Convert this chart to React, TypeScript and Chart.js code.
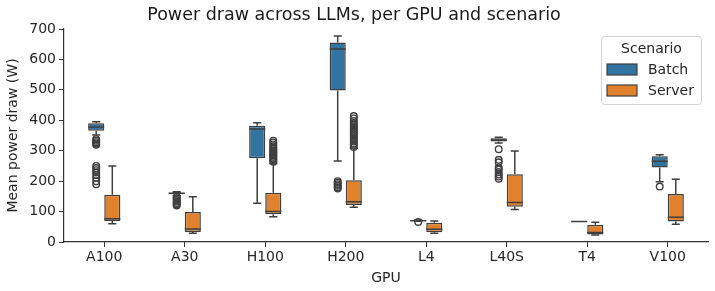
import React, { useEffect, useRef } from "react";
import { Chart, registerables } from "chart.js";

Chart.register(...registerables);

const categories = ["A100", "A30", "H100", "H200", "L4", "L40S", "T4", "V100"];
const scenarios = ["Batch", "Server"];

const batchWhiskerLow = [352, 152, 127, 266, 68, 325, 67, 198];
const batchQ1 = [366, 157, 275, 498, 69, 330, 67, 245];
const batchMedian = [378, 160, 371, 634, 70, 335, 67, 265];
const batchQ3 = [390, 162, 382, 656, 71, 341, 67, 282];
const batchWhiskerHigh = [395, 165, 392, 677, 72, 344, 67, 287];
const batchOutliers = [
  [338, 333, 328, 324, 320, 250, 243, 236, 228, 220, 210, 200, 190],
  [148, 143, 138, 133, 128, 124, 120],
  [],
  [200, 195, 190, 185, 180, 176],
  [66],
  [305, 270, 262, 245, 238, 230, 222, 215, 208],
  [],
  [182],
];

const serverWhiskerLow = [60, 29, 83, 114, 29, 107, 23, 58];
const serverQ1 = [69, 33, 91, 122, 32, 116, 25, 67];
const serverMedian = [76, 43, 100, 132, 42, 130, 31, 81];
const serverQ3 = [155, 99, 162, 203, 63, 223, 57, 158];
const serverWhiskerHigh = [250, 149, 258, 308, 69, 299, 65, 206];
const serverOutliers = [
  [],
  [],
  [264, 268, 272, 276, 280, 284, 288, 292, 296, 300, 305, 310, 315, 320, 327, 333],
  [312, 318, 324, 330, 336, 342, 348, 354, 360, 366, 372, 378, 384, 390, 398, 406, 414],
  [],
  [],
  [],
  [],
];

const yTicks = [0, 100, 200, 300, 400, 500, 600, 700];

const BLUE = "#3274a1";
const ORANGE = "#e1812c";
const EDGE = "#3f3f3f";
const FONT = "DejaVu Sans";

const stats = [
  { low: batchWhiskerLow, q1: batchQ1, med: batchMedian, q3: batchQ3, high: batchWhiskerHigh, out: batchOutliers },
  { low: serverWhiskerLow, q1: serverQ1, med: serverMedian, q3: serverQ3, high: serverWhiskerHigh, out: serverOutliers },
];

const boxPlugin = {
  id: "boxParts",
  afterDatasetsDraw(chart: any) {
    const ctx = chart.ctx;
    const y = chart.scales.y;
    ctx.save();
    stats.forEach((s, di) => {
      const meta = chart.getDatasetMeta(di);
      meta.data.forEach((bar: any, i: number) => {
        const x = bar.x;
        const w = bar.width;
        ctx.strokeStyle = EDGE;
        ctx.lineWidth = 1.5;
        ctx.beginPath();
        ctx.moveTo(x, y.getPixelForValue(s.q3[i]));
        ctx.lineTo(x, y.getPixelForValue(s.high[i]));
        ctx.moveTo(x - w / 4, y.getPixelForValue(s.high[i]));
        ctx.lineTo(x + w / 4, y.getPixelForValue(s.high[i]));
        ctx.moveTo(x, y.getPixelForValue(s.q1[i]));
        ctx.lineTo(x, y.getPixelForValue(s.low[i]));
        ctx.moveTo(x - w / 4, y.getPixelForValue(s.low[i]));
        ctx.lineTo(x + w / 4, y.getPixelForValue(s.low[i]));
        ctx.moveTo(x - w / 2, y.getPixelForValue(s.med[i]));
        ctx.lineTo(x + w / 2, y.getPixelForValue(s.med[i]));
        ctx.stroke();
        ctx.lineWidth = 1.4;
        s.out[i].forEach((v: number) => {
          ctx.beginPath();
          ctx.arc(x, y.getPixelForValue(v), 3.3, 0, Math.PI * 2);
          ctx.stroke();
        });
      });
    });
    ctx.restore();
  },
  afterDraw(chart: any) {
    const ctx = chart.ctx;
    const area = chart.chartArea;
    const lx = area.right - 107;
    const ly = area.top + 7;
    const lw = 100;
    const lh = 68;
    ctx.save();
    ctx.fillStyle = "rgba(255,255,255,0.8)";
    ctx.strokeStyle = "#d0d0d0";
    ctx.lineWidth = 1;
    ctx.beginPath();
    (ctx as any).roundRect(lx + 0.5, ly + 0.5, lw, lh, 3);
    ctx.fill();
    ctx.stroke();
    ctx.fillStyle = "#262626";
    ctx.font = `14px "${FONT}"`;
    ctx.textAlign = "center";
    ctx.textBaseline = "middle";
    ctx.fillText("Scenario", lx + 50.5, ly + 13);
    const colors = [BLUE, ORANGE];
    scenarios.forEach((name, k) => {
      const py = ly + 28 + k * 21;
      ctx.fillStyle = colors[k];
      ctx.fillRect(lx + 6, py, 30, 11);
      ctx.strokeStyle = EDGE;
      ctx.lineWidth = 1.2;
      ctx.strokeRect(lx + 6, py, 30, 11);
      ctx.fillStyle = "#262626";
      ctx.textAlign = "left";
      ctx.fillText(name, lx + 47, py + 6);
    });
    ctx.restore();
  },
};

export default function App() {
  const ref = useRef<HTMLCanvasElement | null>(null);
  useEffect(() => {
    document.body.style.margin = "0";
    if (!ref.current) return;
    const chart = new Chart(ref.current, {
      type: "bar",
      data: {
        labels: categories,
        datasets: [
          {
            label: scenarios[0],
            data: categories.map((_, i) => [batchQ1[i], batchQ3[i]]),
            backgroundColor: BLUE,
            borderColor: EDGE,
            borderWidth: 1.5,
            borderSkipped: false,
            categoryPercentage: 0.4,
            barPercentage: 1.0,
          },
          {
            label: scenarios[1],
            data: categories.map((_, i) => [serverQ1[i], serverQ3[i]]),
            backgroundColor: ORANGE,
            borderColor: EDGE,
            borderWidth: 1.5,
            borderSkipped: false,
            categoryPercentage: 0.4,
            barPercentage: 1.0,
          },
        ] as any,
      },
      options: {
        animation: false,
        responsive: false,
        maintainAspectRatio: false,
        layout: { padding: { top: 0, right: 7, left: 0, bottom: 0 } },
        plugins: {
          legend: { display: false },
          tooltip: { enabled: false },
          title: {
            display: true,
            text: "Power draw across LLMs, per GPU and scenario",
            color: "#1a1a1a",
            font: { family: FONT, size: 17.5, weight: "normal" },
            padding: { top: 5, bottom: 3 },
          },
        },
        scales: {
          x: {
            type: "category",
            grid: { offset: false, drawOnChartArea: false, drawTicks: true, tickLength: 5, color: "#333" },
            border: { display: true, color: "#333", width: 1.2 },
            ticks: { color: "#262626", font: { family: FONT, size: 14 }, padding: 2 },
            title: { display: true, text: "GPU", color: "#262626", font: { family: FONT, size: 14 }, padding: { top: 0, bottom: 4 } },
            afterFit: (s: any) => { s.height = 49; },
          },
          y: {
            type: "linear",
            min: 0,
            max: 700,
            afterBuildTicks: (s: any) => { s.ticks = yTicks.map((v) => ({ value: v })); },
            grid: { drawOnChartArea: false, drawTicks: true, tickLength: 5, color: "#333" },
            border: { display: true, color: "#333", width: 1.2 },
            ticks: { color: "#262626", font: { family: FONT, size: 14 }, padding: 3 },
            title: { display: true, text: "Mean power draw (W)", color: "#262626", font: { family: FONT, size: 14 }, padding: { top: 5, bottom: 0 } },
            afterFit: (s: any) => { s.width = 64; },
          },
        },
      },
      plugins: [boxPlugin],
    });
    return () => chart.destroy();
  }, []);
  return (
    <div style={{ width: 715, height: 291 }}>
      <canvas ref={ref} width={715} height={291} style={{ width: 715, height: 291 }} />
    </div>
  );
}
